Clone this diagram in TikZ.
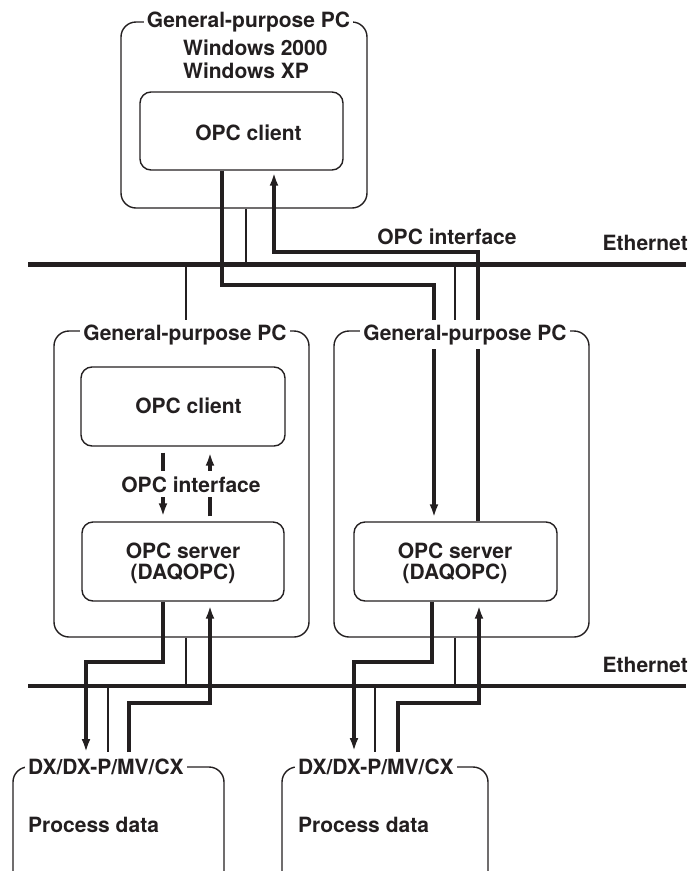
\documentclass[tikz,border=0pt]{standalone}
\usepackage{fontspec}
\setmainfont{TeX Gyre Heros}
\usetikzlibrary{arrows.meta}
\definecolor{ink}{HTML}{231F20}
\begin{document}
\begin{tikzpicture}[x=1pt,y=-1pt,
  outer/.style={draw=ink,line width=1.4pt,rounded corners=15pt,inner sep=0pt},
  inner/.style={draw=ink,line width=1.4pt,rounded corners=11pt,inner sep=0pt},
  txt/.style={text=ink,font=\fontsize{21}{23}\selectfont\bfseries,inner sep=0pt},
  ttl/.style={txt,fill=white,inner xsep=3pt,inner ysep=4pt},
  flow/.style={draw=ink,line width=3.2pt,line join=miter},
  arr/.style={flow,-{Latex[length=13pt,width=9pt]}},
  link/.style={draw=ink,line width=1.4pt},
  eth/.style={draw=ink,line width=4.5pt}]
\useasboundingbox (0,0) rectangle (690,871);

% boxes
\node[outer,minimum width=246pt,minimum height=186pt] (pc1) at (244,115) {};
\node[inner,minimum width=203pt,minimum height=78pt] (client1) at (241.5,131) {};
\node[outer,minimum width=255pt,minimum height=306pt] (pc2) at (181.5,484) {};
\node[inner,minimum width=204pt,minimum height=79pt] (client2) at (183,406.5) {};
\node[inner,minimum width=202pt,minimum height=79pt] (server2) at (183,561.5) {};
\node[outer,minimum width=255pt,minimum height=306pt] (pc3) at (461.5,484) {};
\node[inner,minimum width=203pt,minimum height=79pt] (server3) at (455.5,561.5) {};
\node[outer,minimum width=211pt,minimum height=120pt] (dx1) at (118.5,827) {};
\node[outer,minimum width=206pt,minimum height=120pt] (dx2) at (385,827) {};

% ethernet
\coordinate (e1w) at (28,264.5);
\coordinate (e1e) at (686,264.5);
\coordinate (e2w) at (28,686);
\coordinate (e2e) at (686,686);
\draw[eth] (e1w) -- (e1e);
\draw[eth] (e2w) -- (e2e);

% thin links
\coordinate (j1) at (246,264.5);
\coordinate (j2) at (186,264.5);
\coordinate (j3) at (455,264.5);
\coordinate (j4) at (186,686);
\coordinate (j5) at (108,686);
\coordinate (j6) at (455,686);
\coordinate (j7) at (375,686);
\coordinate (dxc1) at (108,752);
\coordinate (dxc2) at (375,752);
\draw[link] ([xshift=2pt]pc1.south) -- (j1);
\draw[link] (j2) -- ([xshift=4.5pt]pc2.north);
\draw[link] (j3) -- ([xshift=-6.5pt]pc3.north);
\draw[link] ([xshift=4.5pt]pc2.south) -- (j4);
\draw[link] (j5) -- (dxc1);
\draw[link] ([xshift=-6.5pt]pc3.south) -- (j6);
\draw[link] (j7) -- (dxc2);

% flows upper
\coordinate (b1) at (300,285);
\coordinate (b2) at (400,252);
\draw[arr,shorten >=4pt] ([xshift=-19.5pt]client1.south) |- (b1) -| ([xshift=-21.5pt]server3.north);
\draw[arr,shorten >=2pt] ([xshift=22.5pt]server3.north) |- (b2) -| ([xshift=32.5pt]client1.south);

% flows inside left PC
\draw[arr,shorten <=6pt,shorten >=5pt] ([xshift=-20pt]client2.south) -- ([xshift=-20pt]server2.north);
\draw[arr,shorten <=5pt,shorten >=6pt] ([xshift=27pt]server2.north) -- ([xshift=27pt]client2.south);

% flows lower
\coordinate (b3) at (120,662);
\coordinate (b4) at (170,703);
\coordinate (b5) at (400,662);
\coordinate (b6) at (440,703);
\coordinate (dxa1) at (86,752);
\coordinate (dxb1) at (129,752);
\coordinate (dxa2) at (354,751);
\coordinate (dxb2) at (398,752);
\draw[arr] ([xshift=-20pt]server2.south) |- (b3) -| (dxa1);
\draw[arr,shorten >=4pt] (dxb1) |- (b4) -| ([xshift=27pt]server2.south);
\draw[arr] ([xshift=-23.5pt]server3.south) |- (b5) -| (dxa2);
\draw[arr,shorten >=4pt] (dxb2) |- (b6) -| ([xshift=23.5pt]server3.south);

% texts
\node[ttl,anchor=base] (t1) at (248.5,27) {General-purpose PC};
\node[txt,anchor=base west] (win1) at (183,55) {Windows 2000};
\node[txt,anchor=base west] (win2) at (183,78) {Windows XP};
\node[txt,anchor=base] (c1txt) at (248.5,140) {OPC client};
\node[txt,anchor=base] (iface1) at (447,244) {OPC interface};
\node[txt,anchor=base east] (eth1lbl) at (688,250) {Ethernet};
\node[ttl,anchor=base] (t2) at (185,340) {General-purpose PC};
\node[ttl,anchor=base] (t3) at (465,340) {General-purpose PC};
\node[txt,anchor=base] (c2txt) at (188.5,413) {OPC client};
\node[txt,anchor=base,fill=white,inner ysep=5pt] (iface2) at (191,492) {OPC interface};
\node[txt,anchor=base] (s2a) at (183,558) {OPC server};
\node[txt,anchor=base] (s2b) at (183,579) {(DAQOPC)};
\node[txt,anchor=base] (s3a) at (455,558) {OPC server};
\node[txt,anchor=base] (s3b) at (455,579) {(DAQOPC)};
\node[txt,anchor=base east] (eth2lbl) at (688,672) {Ethernet};
\node[ttl,anchor=base west,xshift=-3pt] (dx1t) at (28,774) {DX/DX-P/MV/CX\hspace{5pt}};
\node[ttl,anchor=base west,xshift=-3pt] (dx2t) at (298,774) {DX/DX-P/MV/CX\hspace{3pt}};
\node[txt,anchor=base west] (dx1p) at (28,832) {Process data};
\node[txt,anchor=base west] (dx2p) at (298,832) {Process data};
\end{tikzpicture}
\end{document}
